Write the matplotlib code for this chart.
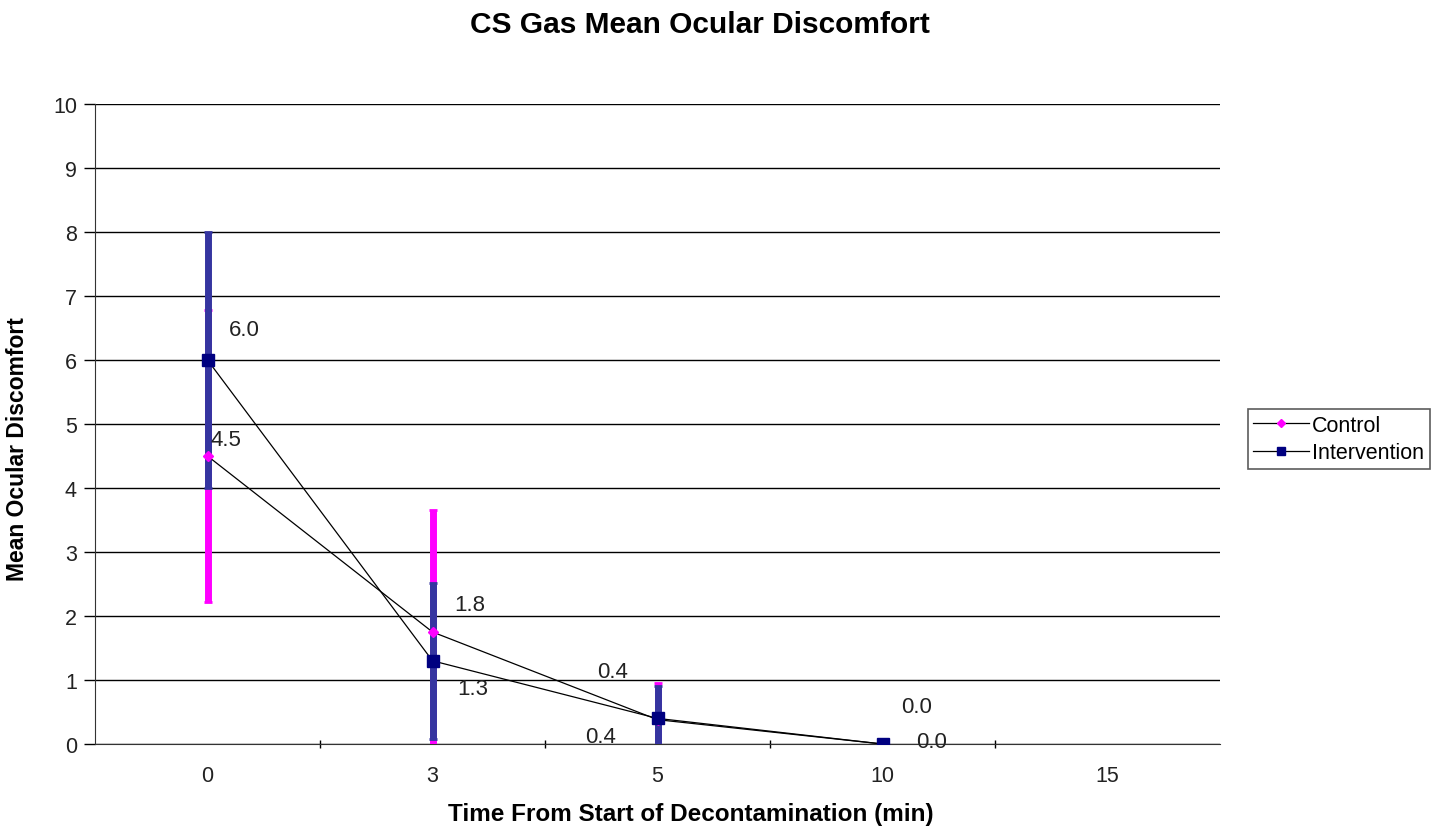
import matplotlib
matplotlib.use("Agg")
import matplotlib.pyplot as plt
import numpy as np

plt.rcParams['font.family'] = ['Liberation Sans', 'DejaVu Sans']

categories = ["0", "3", "5", "10", "15"]
control = [4.5, 1.75, 0.38, 0.0]
control_err = [2.28, 1.9, 0.58, 0.0]
intervention = [6.0, 1.3, 0.4, 0.0]
intervention_err = [2.0, 1.22, 0.5, 0.0]
control_labels = ["4.5", "1.8", "0.4", "0.0"]
intervention_labels = ["6.0", "1.3", "0.4", "0.0"]

fig = plt.figure(figsize=(14.42, 8.29), dpi=100)
ax = fig.add_axes([95/1442, 1-745/829, (1220-95)/1442, (745-105)/829])

x = np.arange(len(control))

ax.errorbar(x, control, yerr=control_err, fmt='none', ecolor='#FF00FF',
            elinewidth=5, capsize=3, capthick=2, zorder=3)
ax.errorbar(x, intervention, yerr=intervention_err, fmt='none', ecolor='#3535A0',
            elinewidth=5, capsize=3, capthick=2, zorder=4)
ax.plot(x, control, color='black', lw=0.9, marker='D', ms=5,
        mfc='#FF00FF', mec='#FF00FF', label='Control', zorder=5)
ax.plot(x, intervention, color='black', lw=0.9, marker='s', ms=8,
        mfc='#000080', mec='#000080', label='Intervention', zorder=6)

# data labels (offsets in points, label centre relative to the point)
c_off = [(13, 12), (27, 20), (-32, 35), (24.5, 27)]
i_off = [(26.6, 22.3), (29, -20), (-41, -13), (35, 1.5)]
for xi, yi, lab, off in zip(x, control, control_labels, c_off):
    ax.annotate(lab, (xi, yi), xytext=off, textcoords='offset points',
                fontsize=16, color='#222222', va='center', ha='center', zorder=7)
for xi, yi, lab, off in zip(x, intervention, intervention_labels, i_off):
    ax.annotate(lab, (xi, yi), xytext=off, textcoords='offset points',
                fontsize=16, color='#222222', va='center', ha='center', zorder=7)

ax.set_xlim(-0.5, len(categories) - 0.5)
ax.set_ylim(0, 10)
ax.set_yticks(range(0, 11))
ax.set_xticks(range(len(categories)))
ax.set_xticklabels(categories)
ax.set_xticks(np.arange(0.5, len(categories) - 1, 1), minor=True)
ax.tick_params(axis='x', which='major', length=0, pad=15, labelsize=15.5,
               labelcolor='#222222')
ax.tick_params(axis='x', which='minor', length=6, direction='inout', width=1)
ax.tick_params(axis='y', length=8, direction='out', labelsize=15.5, width=1,
               pad=5, labelcolor='#222222')
ax.yaxis.grid(True, color='black', lw=1)
ax.set_axisbelow(True)
for s in ['top', 'right']:
    ax.spines[s].set_visible(False)
ax.spines['left'].set_color('#333333')
ax.spines['bottom'].set_color('#333333')

fig.text(691/1442, 1-815/829, "Time From Start of Decontamination (min)", ha='center',
         va='center', fontsize=17.5, fontweight='bold')
fig.text(18/1442, 1-449/829, "Mean Ocular Discomfort", ha='center', va='center',
         rotation=90, fontsize=16.5, fontweight='bold')
fig.text(700/1442, 1-25/829, "CS Gas Mean Ocular Discomfort", ha='center', va='center',
         fontsize=21.5, fontweight='bold')

leg = ax.legend(loc='center left', bbox_to_anchor=(1237/1442, 1-440/829),
                bbox_transform=fig.transFigure, frameon=True, fancybox=False,
                edgecolor='#333333', fontsize=15.5, handlelength=2.6,
                borderpad=0.25, labelspacing=0.3, handletextpad=0.15,
                markerscale=0.8)
leg.get_frame().set_linewidth(1.2)

fig.savefig("out.png", dpi=100)
